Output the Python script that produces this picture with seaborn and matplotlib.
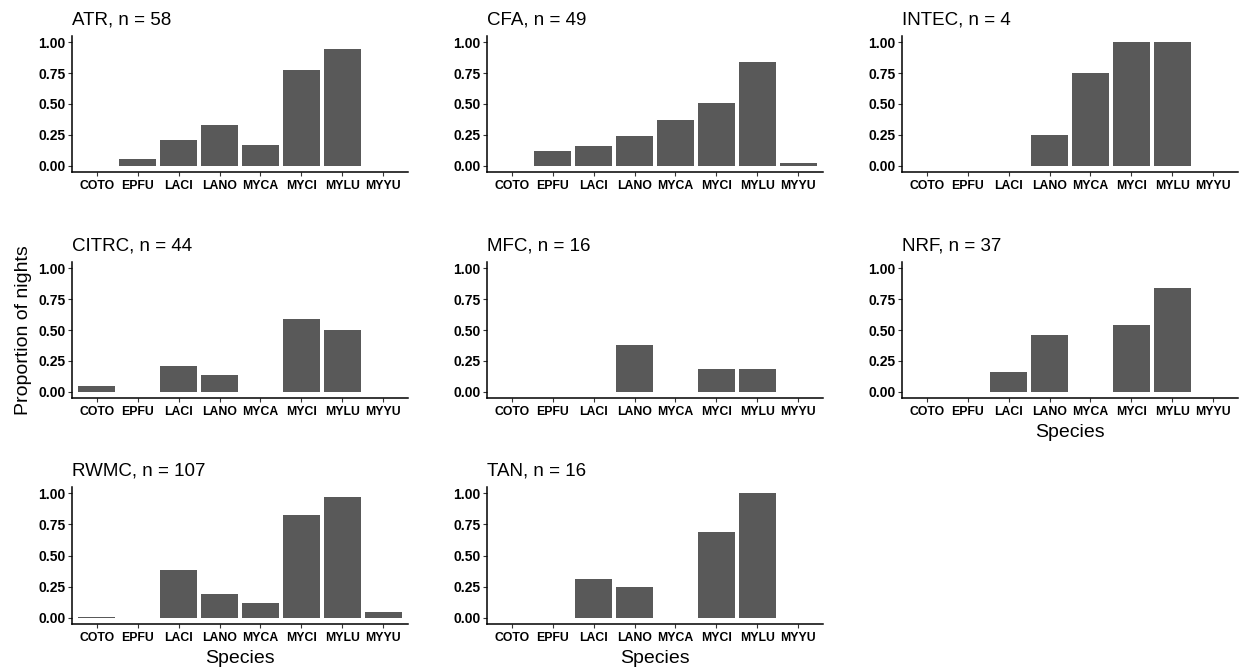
import matplotlib
matplotlib.use("Agg")
import matplotlib.pyplot as plt
import seaborn as sns
import pandas as pd

sns.set_theme(style="ticks")
plt.rcParams["font.family"] = ["Liberation Sans", "DejaVu Sans"]

species = ["COTO", "EPFU", "LACI", "LANO", "MYCA", "MYCI", "MYLU", "MYYU"]

sites = ["ATR", "CFA", "INTEC", "CITRC", "MFC", "NRF", "RWMC", "TAN"]
n_nights = [58, 49, 4, 44, 16, 37, 107, 16]

atr = [0.0, 0.052, 0.207, 0.328, 0.172, 0.776, 0.948, 0.0]
cfa = [0.0, 0.122, 0.163, 0.245, 0.367, 0.510, 0.837, 0.020]
intec = [0.0, 0.0, 0.0, 0.25, 0.75, 1.0, 1.0, 0.0]
citrc = [0.045, 0.0, 0.205, 0.136, 0.0, 0.591, 0.500, 0.0]
mfc = [0.0, 0.0, 0.0, 0.375, 0.0, 0.1875, 0.1875, 0.0]
nrf = [0.0, 0.0, 0.162, 0.459, 0.0, 0.541, 0.838, 0.0]
rwmc = [0.0093, 0.0, 0.383, 0.187, 0.121, 0.822, 0.972, 0.047]
tan = [0.0, 0.0, 0.3125, 0.25, 0.0, 0.6875, 1.0, 0.0]

proportions = [atr, cfa, intec, citrc, mfc, nrf, rwmc, tan]

W, H = 1239, 668
fig = plt.figure(figsize=(W / 100, H / 100), dpi=100)

col_x = [(72, 408), (487, 823), (902, 1238)]
row_y = [(36, 172), (262, 398), (487, 624)]

bar_color = "#595959"

for i, (site, n, vals) in enumerate(zip(sites, n_nights, proportions)):
    r, c = divmod(i, 3)
    x0, x1 = col_x[c]
    top, bottom = row_y[r]
    ax = fig.add_axes([x0 / W, 1 - bottom / H, (x1 - x0) / W, (bottom - top) / H])
    df = pd.DataFrame({"Species": species, "Proportion": vals})
    sns.barplot(data=df, x="Species", y="Proportion", order=species,
                color=bar_color, width=0.9, saturation=1, ax=ax,
                linewidth=0)
    ax.set_xlim(-0.6, 7.6)
    ax.set_ylim(-0.05, 1.05)
    ax.set_yticks([0, 0.25, 0.5, 0.75, 1.0])
    ax.set_yticklabels(["0.00", "0.25", "0.50", "0.75", "1.00"])
    for lbl in ax.get_yticklabels():
        lbl.set_fontsize(10)
        lbl.set_fontweight("bold")
        lbl.set_color("black")
    for lbl in ax.get_xticklabels():
        lbl.set_fontsize(8.8)
        lbl.set_fontweight("bold")
        lbl.set_color("black")
    ax.tick_params(axis="both", length=3, width=0.8, color="#333333")
    ax.tick_params(axis="y", pad=1.5)
    ax.tick_params(axis="x", pad=2.5)
    sns.despine(ax=ax)
    for s in ("left", "bottom"):
        ax.spines[s].set_color("black")
        ax.spines[s].set_linewidth(1.1)
    ax.set_title(f"{site}, n = {n}", loc="left", fontsize=13.5, pad=8, color="black")
    ax.set_ylabel("")
    ax.set_xlabel("")
    if i == 3:
        ax.set_ylabel("Proportion of nights", fontsize=14, labelpad=5, color="black")
    if i in (5, 6, 7):
        ax.set_xlabel("Species", fontsize=14, labelpad=4.5, color="black")
    ax.set_facecolor("white")

fig.savefig("out.png", dpi=100, facecolor="white")
